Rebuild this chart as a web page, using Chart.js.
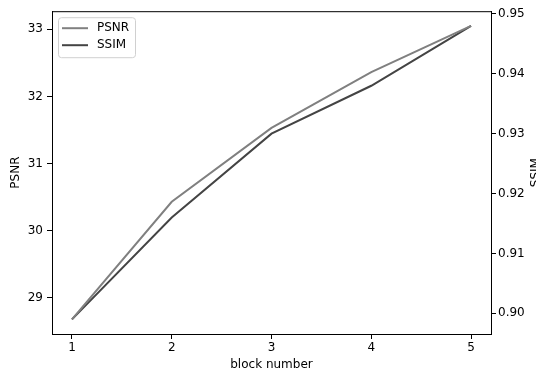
<!DOCTYPE html>
<html>
<head>
<meta charset="utf-8">
<script src="https://cdn.jsdelivr.net/npm/chart.js@4.4.0/dist/chart.umd.min.js"></script>
<style>
  body { margin: 0; background: #fff; overflow: hidden; }
  #wrap { width: 550px; height: 374px; }
</style>
</head>
<body>
<div id="wrap"><canvas id="myChart" width="550" height="374"></canvas></div>
<script>
// values
const blocks = [1, 2, 3, 4, 5];
const psnr = [28.68, 30.43, 31.53, 32.36, 33.05];
const ssim = [0.899, 0.916, 0.930, 0.938, 0.948];
const xTicks = [1, 2, 3, 4, 5];
const psnrTicks = [29, 30, 31, 32, 33];
const ssimTicks = [0.90, 0.91, 0.92, 0.93, 0.94, 0.95];

const font = { family: 'DejaVu Sans', size: 12 };

// matplotlib style 5% margins
function pad(arr, frac) {
    const lo = Math.min(...arr), hi = Math.max(...arr);
    const d = (hi - lo) * frac;
    return { min: lo - d, max: hi + d };
}
const xr = pad(blocks, 0.05);
const pr = pad(psnr, 0.05);
const sr = pad(ssim, 0.05);

function fixTicks(list) {
    return function(scale) {
        scale.ticks = list.map(v => ({ value: v }));
    };
}

const framePlugin = {
    id: 'frame',
    afterDraw(chart) {
        const c = chart.ctx, a = chart.chartArea;
        c.save();
        // top spine (the other three are the axis borders)
        c.strokeStyle = '#000';
        c.lineWidth = 1;
        c.beginPath();
        c.moveTo(a.left, a.top + 0.5);
        c.lineTo(a.right, a.top + 0.5);
        c.stroke();

        // legend box, upper left
        const bx = a.left + 6, by = a.top + 6, bw = 77, bh = 40;
        c.fillStyle = 'rgba(255,255,255,0.8)';
        c.strokeStyle = '#d0d0d0';
        c.beginPath();
        c.roundRect(bx + 0.5, by + 0.5, bw, bh, 3);
        c.fill();
        c.stroke();
        c.font = '12px "DejaVu Sans"';
        c.textBaseline = 'middle';
        chart.data.datasets.forEach((ds, i) => {
            const y = by + 11 + i * 17;
            c.strokeStyle = ds.borderColor;
            c.lineWidth = 2;
            c.beginPath();
            c.moveTo(bx + 4, y);
            c.lineTo(bx + 30, y);
            c.stroke();
            c.fillStyle = '#000';
            c.fillText(ds.label, bx + 39, y);
        });

        // right axis label, reads bottom to top like matplotlib
        c.translate(536, (a.top + a.bottom) / 2);
        c.rotate(-Math.PI / 2);
        c.textAlign = 'center';
        c.fillStyle = '#000';
        c.fillText('SSIM', 0, 0);
        c.restore();
    }
};

const ctx = document.getElementById('myChart');
const myChart = new Chart(ctx, {
    type: 'line',
    data: {
        datasets: [{
            label: 'PSNR',
            data: blocks.map((b, i) => ({ x: b, y: psnr[i] })),
            borderColor: '#808080',
            borderWidth: 2,
            pointRadius: 0,
            tension: 0,
            yAxisID: 'y'
        }, {
            label: 'SSIM',
            data: blocks.map((b, i) => ({ x: b, y: ssim[i] })),
            borderColor: '#444444',
            borderWidth: 2,
            pointRadius: 0,
            tension: 0,
            yAxisID: 'y2'
        }]
    },
    options: {
        responsive: false,
        animation: false,
        layout: { padding: { top: 9, left: 0, right: 0, bottom: 0 } },
        plugins: {
            legend: { display: false },
            tooltip: { enabled: false }
        },
        scales: {
            x: {
                type: 'linear',
                min: xr.min, max: xr.max,
                afterBuildTicks: fixTicks(xTicks),
                afterFit(s) { s.height = 40; },
                grid: { drawOnChartArea: false, drawTicks: true, tickLength: 5, color: '#000' },
                border: { display: true, color: '#000' },
                ticks: { color: '#000', font: font, padding: 2, maxRotation: 0 },
                title: { display: true, text: 'block number', color: '#000', font: font, padding: { top: 0, bottom: 2 } }
            },
            y: {
                position: 'left',
                min: pr.min, max: pr.max,
                afterBuildTicks: fixTicks(psnrTicks),
                afterFit(s) { s.width = 52; },
                grid: { drawOnChartArea: false, drawTicks: true, tickLength: 5, color: '#000' },
                border: { display: true, color: '#000' },
                ticks: { color: '#000', font: font, padding: 4, callback: v => String(v) },
                title: { display: true, text: 'PSNR', color: '#000', font: font, padding: { top: 9, bottom: 0 } }
            },
            y2: {
                position: 'right',
                min: sr.min, max: sr.max,
                afterBuildTicks: fixTicks(ssimTicks),
                afterFit(s) { s.width = 59; },
                grid: { drawOnChartArea: false, drawTicks: true, tickLength: 5, color: '#000' },
                border: { display: true, color: '#000' },
                ticks: { color: '#000', font: font, padding: 2, callback: v => v.toFixed(2) }
            }
        }
    },
    plugins: [framePlugin]
});
</script>
</body>
</html>
